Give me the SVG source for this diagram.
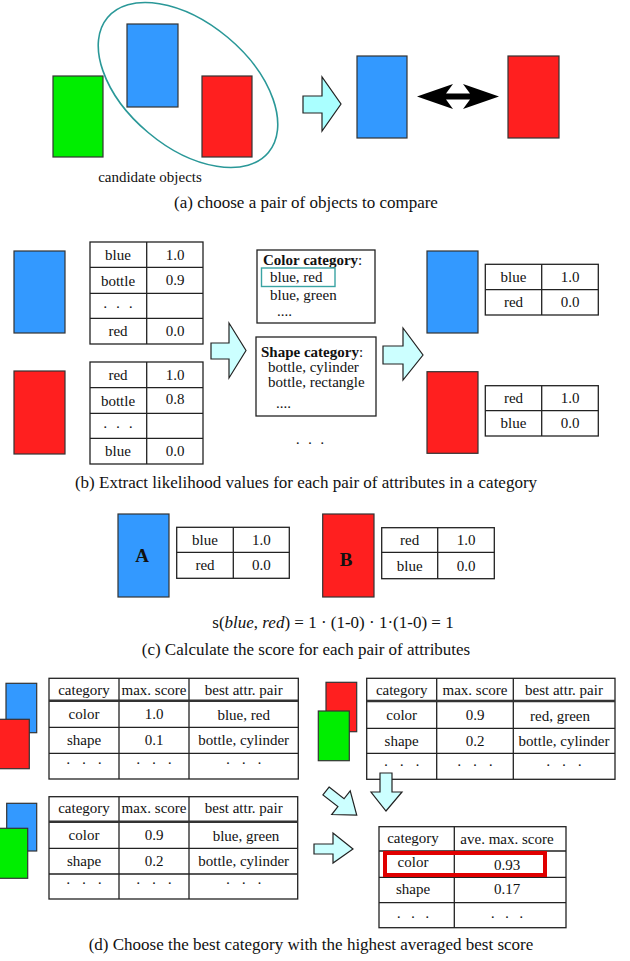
<svg xmlns="http://www.w3.org/2000/svg" width="630" height="961" viewBox="0 0 630 961">
<style>
text{font-family:"Liberation Serif","Times New Roman",serif;font-size:15px;fill:#111;text-anchor:middle}
.cap{font-size:17px}
.lft{text-anchor:start}
.b{font-weight:bold}
.obj{stroke:#333;stroke-width:1.2}
.blue{fill:#3399ff}
.red{fill:#ff1f1f}
.green{fill:#00ee00}
.tb{fill:#fff;stroke:#222;stroke-width:1.3}
.ln{stroke:#222;stroke-width:1.3;fill:none}
.hd{stroke:#333;stroke-width:2.6;fill:none}
.arA{fill:#aaffff;stroke:#222;stroke-width:1.2}
.arB{fill:#ccffff;stroke:#222;stroke-width:1.2}
.dots{word-spacing:4px}
.d7{word-spacing:7px}
</style>
<rect width="630" height="961" fill="#fff"/>

<!-- (a) -->
<g id="a-candidates">
<rect class="obj green" x="53" y="76" width="50" height="81"/>
<rect class="obj blue" x="127" y="24" width="51" height="83"/>
<rect class="obj red" x="202" y="76" width="50" height="81"/>
<ellipse cx="188" cy="85" rx="105" ry="62" transform="rotate(40 188 85)" fill="none" stroke="#2a9898" stroke-width="1.6"/>
<text x="150" y="182">candidate objects</text>
</g>
<g id="a-pair">
<rect class="obj blue" x="357" y="56" width="50" height="82"/>
<rect class="obj red" x="508" y="56" width="51" height="82"/>
</g>
<text class="cap" x="306" y="208">(a) choose a pair of objects to compare</text>

<!-- (b) -->
<g id="b-obj-blue">
<rect class="obj blue" x="14" y="251" width="51" height="82"/>
<rect class="tb" x="90" y="242" width="113" height="102"/>
<path class="ln" d="M146.7,242V344M90,267.3H203M90,293.3H203M90,318.3H203"/>
<text x="118" y="260">blue</text><text x="175" y="260">1.0</text>
<text x="118" y="286">bottle</text><text x="175" y="285">0.9</text>
<text class="dots" x="118" y="312">· · ·</text>
<text x="118" y="336">red</text><text x="175" y="336">0.0</text>
</g>
<g id="b-obj-red">
<rect class="obj red" x="14" y="371" width="51" height="83"/>
<rect class="tb" x="90" y="362" width="113" height="102"/>
<path class="ln" d="M146.7,362V464M90,387.7H203M90,413.3H203M90,438.3H203"/>
<text x="118" y="380">red</text><text x="175" y="380">1.0</text>
<text x="118" y="406">bottle</text><text x="175" y="404">0.8</text>
<text class="dots" x="118" y="432">· · ·</text>
<text x="118" y="456">blue</text><text x="175" y="456">0.0</text>
</g>
<g id="b-color-category">
<rect class="tb" x="257" y="250" width="118" height="73"/>
<text class="lft" x="263" y="265"><tspan class="b">Color category</tspan>:</text>
<rect x="261.5" y="268" width="73.5" height="18.5" fill="none" stroke="#3aa3a3" stroke-width="1.4"/>
<text class="lft" x="270" y="282">blue, red</text>
<text class="lft" x="270" y="300">blue, green</text>
<text class="lft" x="277" y="316">....</text>
</g>
<g id="b-shape-category">
<rect class="tb" x="256" y="337" width="120" height="79"/>
<text class="lft" x="261" y="357"><tspan class="b">Shape category</tspan>:</text>
<text class="lft" x="268" y="372">bottle, cylinder</text>
<text class="lft" x="268" y="387">bottle, rectangle</text>
<text class="lft" x="276" y="408">....</text>
</g>
<text style="word-spacing:3.5px" x="310" y="448">· · ·</text>
<g id="b-result-blue">
<rect class="obj blue" x="427" y="251" width="51" height="82"/>
<rect class="tb" x="485.3" y="264.3" width="113" height="50.7"/>
<path class="ln" d="M541.7,264.3V315M485.3,289.7H598.3"/>
<text x="513.5" y="282">blue</text><text x="570" y="282">1.0</text>
<text x="513.5" y="307">red</text><text x="570" y="307">0.0</text>
</g>
<g id="b-result-red">
<rect class="obj red" x="427" y="371.7" width="51" height="81.6"/>
<rect class="tb" x="485.3" y="385.7" width="113" height="50.3"/>
<path class="ln" d="M541.7,385.7V436M485.3,410.7H598.3"/>
<text x="513.5" y="403">red</text><text x="570" y="403">1.0</text>
<text x="513.5" y="428">blue</text><text x="570" y="428">0.0</text>
</g>
<text class="cap" x="306" y="488">(b) Extract likelihood values for each pair of attributes in a category</text>

<!-- (c) -->
<g id="c-A">
<rect class="obj blue" x="118" y="514" width="51" height="83"/>
<text class="b" style="font-size:19px" x="142" y="562">A</text>
<rect class="tb" x="176.7" y="527.3" width="112.6" height="51"/>
<path class="ln" d="M233.3,527.3V578.3M176.7,552.3H289.3"/>
<text x="205" y="545">blue</text><text x="261.3" y="545">1.0</text>
<text x="205" y="570">red</text><text x="261.3" y="570">0.0</text>
</g>
<g id="c-B">
<rect class="obj red" x="322.7" y="514" width="51.3" height="83"/>
<text class="b" style="font-size:19px" x="346" y="566">B</text>
<rect class="tb" x="381.7" y="527.7" width="112.6" height="51"/>
<path class="ln" d="M437.7,527.7V578.7M381.7,552.3H494.3"/>
<text x="409.7" y="545">red</text><text x="466" y="545">1.0</text>
<text x="409.7" y="571">blue</text><text x="466" y="571">0.0</text>
</g>
<text class="cap" x="333" y="628">s(<tspan font-style="italic">blue</tspan>, <tspan font-style="italic">red</tspan>) = 1 · (1-0) · 1·(1-0) = 1</text>
<text class="cap" x="306" y="655">(c) Calculate the score for each pair of attributes</text>

<!-- (d) -->
<g id="d-blue-red">
<rect class="obj blue" x="6" y="683.3" width="30.7" height="49.4"/>
<rect class="obj red" x="-2" y="719.3" width="31.3" height="49.4"/>
<rect class="tb" x="49" y="678.3" width="249.3" height="100.7"/>
<path class="ln" d="M119,678.3V779M189,678.3V779M49,727.3H298.3M49,753.3H298.3"/>
<path class="hd" d="M49,700.7H298.3"/>
<text x="84" y="694.5">category</text><text x="154" y="694.5">max. score</text><text x="243.7" y="694.5">best attr. pair</text>
<text x="84" y="719">color</text><text x="154" y="719">1.0</text><text x="243.7" y="720">blue, red</text>
<text x="84" y="745">shape</text><text x="154" y="745">0.1</text><text x="243.7" y="745">bottle, cylinder</text>
<text class="d7" x="84" y="768">· · ·</text><text class="d7" x="154" y="768">· · ·</text><text class="d7" x="243.7" y="768">· · ·</text>
</g>
<g id="d-red-green">
<rect class="obj red" x="326" y="682.3" width="30.7" height="49.4"/>
<rect class="obj green" x="318.3" y="711" width="31" height="49.7"/>
<rect class="tb" x="366.7" y="678.3" width="248.3" height="101"/>
<path class="ln" d="M436.7,678.3V779.3M513.3,678.3V779.3M366.7,728.3H615M366.7,753.3H615"/>
<path class="hd" d="M366.7,701H615"/>
<text x="401.7" y="694.5">category</text><text x="475" y="694.5">max. score</text><text x="564" y="694.5">best attr. pair</text>
<text x="401.7" y="720">color</text><text x="475" y="720">0.9</text><text x="560" y="721">red, green</text>
<text x="401.7" y="746">shape</text><text x="475" y="746">0.2</text><text x="564" y="746">bottle, cylinder</text>
<text class="d7" x="401.7" y="770">· · ·</text><text class="d7" x="475" y="770">· · ·</text><text class="d7" x="564" y="770">· · ·</text>
</g>
<g id="d-blue-green">
<rect class="obj blue" x="6.7" y="803.3" width="30" height="47.7"/>
<rect class="obj green" x="-2" y="828.3" width="29.7" height="50"/>
<rect class="tb" x="49" y="796.7" width="248.7" height="102.3"/>
<path class="ln" d="M119,796.7V899M189,796.7V899M49,848.3H297.7M49,874H297.7"/>
<path class="hd" d="M49,821.7H297.7"/>
<text x="84" y="813">category</text><text x="154" y="813">max. score</text><text x="243.7" y="813">best attr. pair</text>
<text x="84" y="840">color</text><text x="154" y="840">0.9</text><text x="246" y="841">blue, green</text>
<text x="84" y="866">shape</text><text x="154" y="866">0.2</text><text x="243.7" y="866">bottle, cylinder</text>
<text class="d7" x="84" y="888">· · ·</text><text class="d7" x="154" y="888">· · ·</text><text class="d7" x="243.7" y="888">· · ·</text>
</g>
<g id="d-result">
<rect class="tb" x="379" y="826.7" width="187" height="101"/>
<path class="ln" d="M454.3,826.7V927.7M379,851H566M379,877.3H566M379,902.7H566"/>
<text x="413" y="843">category</text><text x="507" y="844">ave. max. score</text>
<text x="413" y="867">color</text><text x="507" y="870">0.93</text>
<text x="413" y="894">shape</text><text x="507" y="894">0.17</text>
<text style="word-spacing:5.5px" x="413" y="922">· · ·</text><text style="word-spacing:5.5px" x="507" y="922">· · ·</text>
<rect x="385" y="853" width="160" height="22" fill="none" stroke="#e00000" stroke-width="4"/>
</g>
<text class="cap" x="311" y="950">(d) Choose the best category with the highest averaged best score</text>

<!-- connectors -->
<g id="connectors">
<polygon class="arA" points="303,96 322,96 322,77 341,104 322,131 322,113 303,113"/>
<path fill="#000" d="M417,96.5 L453,84 L446,93.5 L470,93.5 L463,84 L499,96.5 L463,109 L470,99.5 L446,99.5 L453,109 Z"/>
<polygon class="arB" points="211,343 229,343 229,323 246,350.5 229,378 229,359 211,359"/>
<polygon class="arB" points="383,346 403,346 403,328 423,355 403,380 403,364 383,364"/>
<polygon class="arB" points="380,773 392,773 392,792 402,792 386,811 371,792 380,792"/>
<polygon class="arB" transform="translate(326 791) rotate(38)" points="0,-5 19,-5 19,-15 39,0 19,15 19,5 0,5"/>
<polygon class="arB" points="314,844 333,844 333,833 353,849 333,863 333,854 314,854"/>
</g>
</svg>
